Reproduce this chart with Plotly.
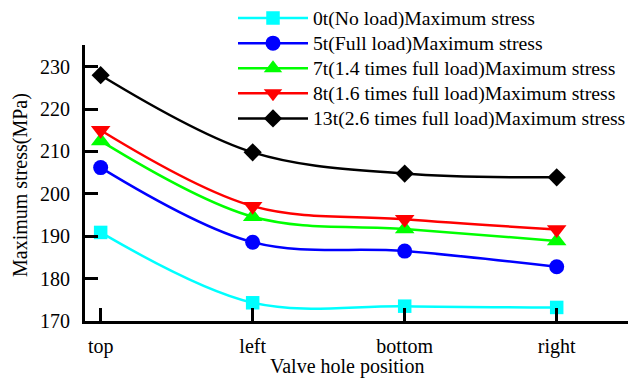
import plotly.graph_objects as go

# Valve hole positions around the ring
positions = ["top", "left", "bottom", "right"]

# Maximum stress (MPa) for each load case
stress_0t = [190.9, 174.3, 173.5, 173.2]
stress_5t = [206.2, 188.6, 186.5, 182.8]
stress_7t = [212.5, 194.6, 191.7, 188.9]
stress_8t = [215.0, 197.1, 194.0, 191.6]
stress_13t = [228.0, 209.8, 204.8, 203.9]

series_names = [
    "0t(No load)Maximum stress",
    "5t(Full load)Maximum stress",
    "7t(1.4 times full load)Maximum stress",
    "8t(1.6 times full load)Maximum stress",
    "13t(2.6 times full load)Maximum stress",
]
series_values = [stress_0t, stress_5t, stress_7t, stress_8t, stress_13t]
colors = ["#00FFFF", "#0000FF", "#00FF00", "#FF0000", "#000000"]
symbols = ["square", "circle", "triangle-up", "triangle-down", "diamond"]
marker_sizes = [13.5, 15, 17, 17, 14]

x_title = "Valve hole position"
y_title = "Maximum stress(MPa)"

FONT = "Liberation Serif"

# plot area in pixels
W, H = 628, 378
L, R, T, B = 85, 0, 45, 57
PW, PH = W - L - R, H - T - B

fig = go.Figure()
for name, vals, col, sym, ms in zip(series_names, series_values, colors, symbols, marker_sizes):
    fig.add_trace(go.Scatter(
        x=list(range(len(positions))),
        y=vals,
        # legend rows are spaced by the smaller legend font; label drawn larger
        name=f'<span style="font-size:19.7px">{name}</span>',
        mode="lines+markers",
        line=dict(color=col, width=2.5, shape="spline", smoothing=1),
        marker=dict(symbol=sym, size=ms, color=col),
    ))

fig.add_annotation(
    text=x_title, xref="paper", yref="paper",
    x=(347 - L) / PW, y=-(366 - (H - B)) / PH,
    xanchor="center", yanchor="middle", showarrow=False,
    font=dict(family=FONT, size=20, color="black"),
)
fig.add_annotation(
    text=y_title, xref="paper", yref="paper", textangle=-90,
    x=-(L - 20) / PW, y=1 - (185 - T) / PH,
    xanchor="center", yanchor="middle", showarrow=False,
    font=dict(family=FONT, size=20, color="black"),
)

fig.update_layout(
    width=W,
    height=H,
    margin=dict(l=L, r=R, t=T, b=B, autoexpand=False),
    paper_bgcolor="white",
    plot_bgcolor="white",
    font=dict(family=FONT, size=20, color="black"),
    showlegend=True,
    legend=dict(
        x=(233 - L) / PW, y=1 + (T - 0.5) / PH,
        xanchor="left", yanchor="top",
        bgcolor="rgba(0,0,0,0)",
        font=dict(family=FONT, size=17, color="black"),
        itemwidth=70,
        tracegroupgap=0,
    ),
    xaxis=dict(
        tickmode="array",
        tickvals=list(range(len(positions))),
        ticktext=positions,
        range=[-0.103, 3.469],
        showgrid=False,
        zeroline=False,
        showline=True,
        linecolor="black",
        linewidth=3,
        ticks="inside",
        ticklen=13,
        tickwidth=3,
        tickcolor="black",
        ticklabelstandoff=5,
        automargin=False,
    ),
    yaxis=dict(
        range=[170, 235.13],
        tickvals=[170, 180, 190, 200, 210, 220, 230],
        showgrid=False,
        zeroline=False,
        showline=True,
        linecolor="black",
        linewidth=3,
        ticks="inside",
        ticklen=13,
        tickwidth=3,
        tickcolor="black",
        ticklabelstandoff=8,
        automargin=False,
    ),
)

fig.write_html("out.html")
